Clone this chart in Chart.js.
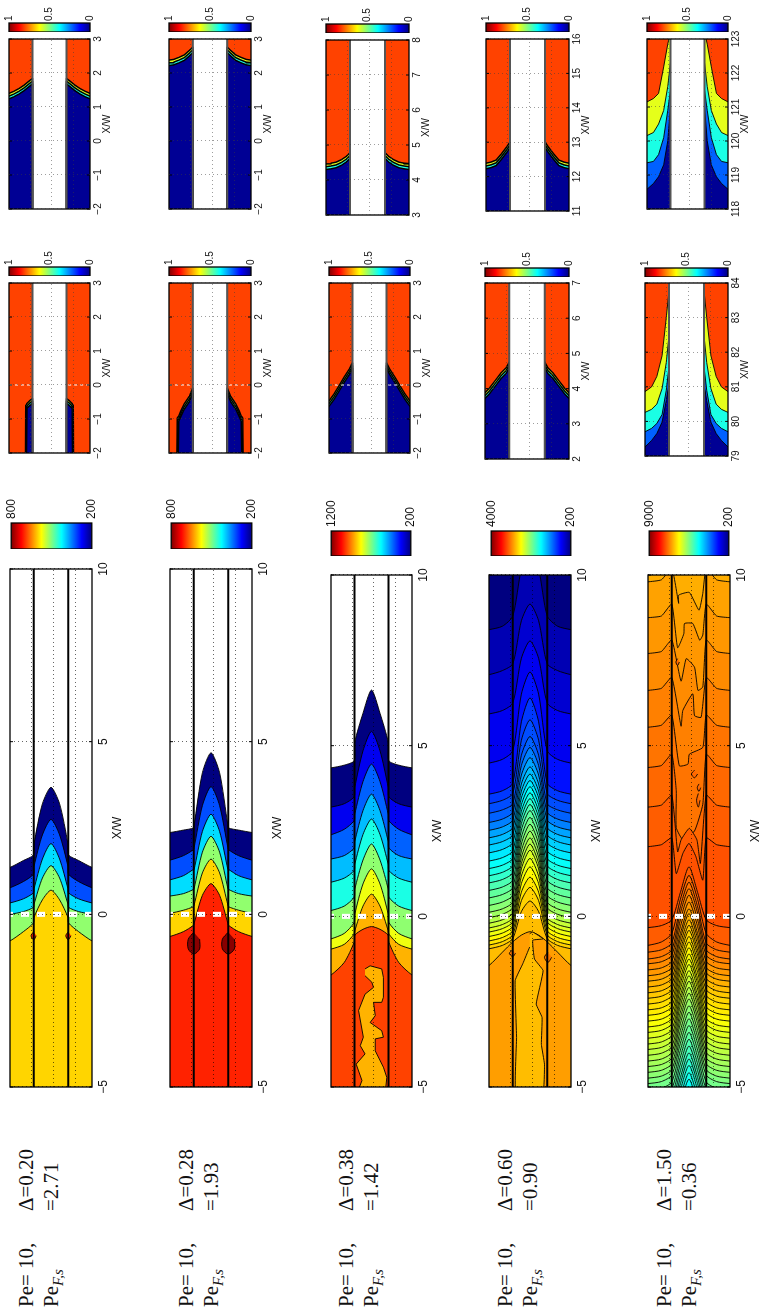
<!DOCTYPE html>
<html>
<head>
<meta charset="utf-8">
<script src="https://cdn.jsdelivr.net/npm/chart.js"></script>
<style>
  html, body { margin: 0; padding: 0; background: #fff; overflow: hidden; }
  /* the whole figure is a landscape page turned on its side */
  #page { position: absolute; left: 0; top: 1315px; width: 1315px; height: 762px;
          transform-origin: 0 0; transform: rotate(-90deg); }
  #page canvas { position: absolute; }
  .lbl { position: absolute; font-family: "Liberation Serif", serif; font-size: 21px; line-height: 24px; white-space: nowrap; color: #111; }
  .lbl i { font-size: 15px; position: relative; top: 5px; }
</style>
</head>
<body>
<div id="page"></div>
<script>
// ---- labels of the five cases
const deltaLabels = ['Δ=0.20', 'Δ=0.28', 'Δ=0.38', 'Δ=0.60', 'Δ=1.50'];
const peLabels = ['=2.71', '=1.93', '=1.42', '=0.90', '=0.36'];

// ---- axes
const mainTicks = [-5, 0, 5, 10];
const gridY = [0.57, -0.06, -0.7];
const rightTicks = [[-2,-1,0,1,2,3], [-2,-1,0,1,2,3], [3,4,5,6,7,8], [11,12,13,14,15,16], [118,119,120,121,122,123]];
const midTicks = [[-2,-1,0,1,2,3], [-2,-1,0,1,2,3], [-2,-1,0,1,2,3], [2,3,4,5,6,7], [79,80,81,82,83,84]];
const barMax = [800, 800, 1200, 4000, 9000];
const barMin = 200;
const smallBarTicks = [0, 0.5, 1];

// ---- main panels: contour rows are X/W at these |y| stations
const stationY = [0, 0.25, 0.5, 0.8, 1.19];
const stationWallY = [0, 0.25, 0.49, 0.51, 0.8, 1.19];

const frontsA = [[3.68,3.2,2.05,1.72,1.56,1.36],[2.75,2.3,1.4,1.16,0.95,0.77],[2.05,1.6,0.75,0.62,0.45,0.33],[1.41,1.05,0.3,0.2,0.08,0],[0.7,0.42,-0.08,-0.25,-0.5,-0.77]];
const levelsA = [200,320,405,510,600];
const frontsB = [[4.68,4.1,2.58,2.5,2.44,2.37],[3.7,3.15,1.93,1.87,1.7,1.57],[2.9,2.4,1.3,1.3,1.12,1.0],[2.26,1.8,0.75,0.72,0.6,0.53],[1.6,1.2,0.27,0.22,0.12,0.03],[0.89,0.55,-0.26,-0.32,-0.5,-0.64]];
const levelsB = [200,320,405,510,600,705];
const frontsC = [[6.63,5.95,5.1,4.56,4.43,4.35],[5.42,4.85,3.78,3.5,3.3,3.2],[4.46,3.95,3.0,2.8,2.55,2.39],[3.58,3.1,2.2,2.0,1.78,1.68],[2.85,2.4,1.53,1.34,1.12,1.0],[2.12,1.65,0.8,0.56,0.3,0.17],[1.39,0.95,0.07,-0.18,-0.5,-0.66],[0.65,0.3,-0.42,-0.52,-0.82,-0.96],[-0.3,-0.38,-0.55,-0.76,-1.35,-1.72]];
const levelsC = [200,310,420,510,600,715,810,900,1010];
const frontsD = [
  [10.7,10.17,8.8,8.5,8.4],[9.15,8.66,7.4,7.2,7.08],[8.07,7.56,6.25,6.03,5.93],[7.16,6.51,4.85,4.6,4.49],[6.4,5.7,3.9,3.68,3.58],
  [5.76,5.16,3.6,3.4,3.3],[5.27,4.72,3.3,3.12,3.02],[4.95,4.42,3.05,2.85,2.75],[4.65,4.14,2.82,2.62,2.52],[4.38,3.88,2.6,2.4,2.3],
  [4.17,3.67,2.39,2.19,2.09],[3.98,3.47,2.16,1.96,1.86],[3.8,3.27,1.92,1.72,1.62],[3.62,3.08,1.7,1.5,1.4],[3.45,2.9,1.49,1.29,1.19],
  [3.28,2.72,1.28,1.08,0.98],[3.1,2.53,1.06,0.86,0.76],[2.9,2.32,0.84,0.64,0.54],[2.7,2.12,0.62,0.42,0.32],[2.5,1.92,0.42,0.22,0.12],
  [2.3,1.73,0.26,0.06,-0.04],[2.12,1.55,0.1,-0.1,-0.2],[1.94,1.39,-0.04,-0.24,-0.34],[1.7,1.18,-0.16,-0.36,-0.46],[1.45,0.96,-0.29,-0.49,-0.59],
  [1.15,0.71,-0.42,-0.62,-0.72],[0.85,0.46,-0.54,-0.74,-0.84],[0.45,0.14,-0.65,-0.85,-0.95],[-0.45,-0.55,-0.75,-1.05,-1.44]];
const levelsD = [390,504,618,732,884,960,1036,1150,1283,1378,1454,1549,1644,1720,1815,1910,1986,2062,2138,2214,2290,2366,2442,2518,2594,2670,2746,2822,2936];
const frontsE = [
  [1.45,0.7,-0.1,-0.27,-0.33],[1.2,0.5,-0.5,-0.75,-0.85],[1.0,0.28,-0.78,-0.98,-1.05],[0.81,0.1,-0.98,-1.18,-1.25],[0.62,-0.1,-1.14,-1.33,-1.39],
  [0.42,-0.3,-1.32,-1.51,-1.57],[0.22,-0.5,-1.5,-1.68,-1.74],[0.08,-0.65,-1.65,-1.84,-1.9],[-0.1,-0.82,-1.82,-2.01,-2.07],[-0.26,-0.99,-1.99,-2.18,-2.24],
  [-0.41,-1.14,-2.15,-2.34,-2.4],[-0.59,-1.31,-2.32,-2.51,-2.57],[-0.75,-1.47,-2.49,-2.68,-2.74],[-0.92,-1.64,-2.65,-2.84,-2.9],[-1.1,-1.82,-2.82,-3.01,-3.07],
  [-1.25,-1.97,-2.99,-3.18,-3.24],[-1.41,-2.13,-3.15,-3.34,-3.4],[-1.59,-2.31,-3.32,-3.51,-3.57],[-1.74,-2.46,-3.49,-3.68,-3.74],[-1.9,-2.62,-3.65,-3.84,-3.9],
  [-2.08,-2.8,-3.82,-4.01,-4.07],[-2.25,-2.97,-3.99,-4.18,-4.24],[-2.42,-3.14,-4.15,-4.34,-4.4],[-2.62,-3.34,-4.32,-4.51,-4.57],[-2.81,-3.53,-4.49,-4.68,-4.74],
  [-3.0,-3.72,-4.65,-4.84,-4.9],[-3.2,-3.92,-4.85,-5.04,-5.1],[-3.4,-4.12,-5.05,-5.24,-5.3],[-3.6,-4.32,-5.25,-5.44,-5.5],[-3.8,-4.52,-5.45,-5.64,-5.7],
  [-4.0,-4.72,-5.65,-5.84,-5.9],[-4.18,-4.9,-5.85,-6.04,-6.1],[-4.37,-5.09,-6.05,-6.24,-6.3],[-4.58,-5.3,-6.25,-6.44,-6.5],[-4.77,-5.5,-6.35,-6.54,-6.6]];
const levelsE = [7108,7004,6900,6796,6692,6588,6484,6380,6276,6172,6068,5964,5860,5756,5652,5548,5444,5340,5236,5132,5028,4924,4820,4716,4612,4508,4404,4300,4196,4092,3988,3884,3780,3676,3572];

// Δ=1.50, warm side: [wall, |y|=.8, edge] and the wiggly line across the channel as [x, y]
const hotOuterE = [[10.2,9.86,9.8],[9.15,8.8,8.75],[8.1,7.76,7.7],[7.0,6.68,6.62],[5.9,5.6,5.54],[4.75,4.42,4.36],[3.55,3.26,3.2],[2.3,2.1,2.04]];
const hotLevelsE = [6500,6600,6700,6800,6900,7000,7100,7200];
const hotInnerE = [
  [[9.17,0.3],[9.41,0.3],[9.49,-0.01],[8.97,-0.29],[9.46,-0.4]],
  [[7.87,0.33],[8.28,0.15],[8.58,0.13],[8.58,-0.11],[8.09,-0.31],[8.24,-0.4]],
  [[6.89,0.23],[7.55,0.08],[7.3,-0.16],[6.62,-0.26],[6.72,-0.4]],
  [[5.57,0.23],[6.03,0.18],[6.52,-0.11],[5.88,-0.16],[5.83,-0.35]],
  [[4.41,0.28],[4.46,0.03],[4.75,-0.01],[4.95,-0.4]],
  [[3.68,0.37],[2.6,0.37],[2.25,0.18],[2.5,-0.16],[3.28,-0.4]],
  [[1.89,0.33],[2.24,0.23],[2.58,-0.01],[2.24,-0.23],[1.55,-0.33]],
  [[1.25,0.37],[1.84,0.18],[2.14,0],[1.75,-0.2],[1.06,-0.4]]];
const baseLevelD = 200;
const baseLevelE = 6400;

// closed islands and blobs, [x, y]
const blobsA = [[[-0.5,0.5],[-0.62,0.58],[-0.74,0.5],[-0.62,0.43]], [[-0.5,-0.5],[-0.62,-0.43],[-0.74,-0.5],[-0.62,-0.58]]];
const blobLevelA = 705;
const blobsB = [[[-0.52,0.5],[-0.72,0.66],[-1.0,0.66],[-1.15,0.5],[-1.0,0.33],[-0.72,0.33]], [[-0.52,-0.5],[-0.72,-0.33],[-1.0,-0.33],[-1.15,-0.5],[-1.0,-0.68],[-0.72,-0.68]]];
const blobLevelB = 795;
const islandC = [[-1.54,0.19],[-1.45,0.04],[-1.54,-0.3],[-1.79,-0.35],[-2.37,-0.35],[-2.52,-0.3],[-2.52,-0.06],[-2.91,-0.11],[-3.11,0.04],[-3.35,-0.3],[-3.54,-0.35],[-3.59,-0.11],[-3.94,-0.11],[-4.42,-0.35],[-4.72,-0.45],[-5.2,-0.4],[-5.2,0.43],[-4.81,0.28],[-4.33,0.45],[-4.03,0.19],[-3.79,0.33],[-3.54,0.24],[-2.76,0.38],[-2.28,0.19],[-2.08,-0.06],[-1.93,-0.01],[-1.74,0.19]];
const islandLevelC = 900;
const islandD = [[-0.51,0.01],[-0.46,-0.08],[-0.66,-0.38],[-0.7,-0.08],[-1.25,-0.13],[-1.59,-0.38],[-2.57,-0.18],[-2.96,-0.35],[-3.75,-0.33],[-4.33,-0.42],[-5.2,-0.37],[-5.2,0.41],[-3.55,0.39],[-1.88,0.43],[-1.39,0.21],[-0.9,0.01]];
const islandLevelD = 2822;
const blobsD = [[[-0.98,0.5],[-1.08,0.6],[-1.18,0.5],[-1.08,0.42]], [[-1.05,-0.52],[-1.2,-0.42],[-1.35,-0.52],[-1.2,-0.63]]];
const blobLevelD = 3080;
const spotsE = [[[4.28,-0.16],[4.17,-0.07],[4.06,-0.16],[4.17,-0.25]], [[3.88,-0.29],[3.77,-0.24],[3.66,-0.29],[3.77,-0.34]], [[7.55,0.33],[7.45,0.38],[7.35,0.33],[7.45,0.28]], [[3.6,-0.27],[3.4,-0.22],[3.2,-0.27],[3.4,-0.32]]];
const spotLevelE = 7000;

// ---- small panels: fronts on the outer bands, X/W at the |y| stations of the panel
const thinY = [0.5, 0.6, 0.75, 0.9, 1.05, 1.19];
const wideY = [0.5, 0.58, 0.7, 0.85, 1.0, 1.19];
const stripYmidA = [0.5, 0.58, 0.64, 0.66, 0.68, 0.7, 0.71, 1.19];
const stripYmidB = [0.5, 0.6, 0.75, 0.85, 0.91, 0.93, 0.95, 0.96, 1.19];

const rightA = [[1.84,1.76,1.64,1.54,1.46,1.4],[1.76,1.68,1.56,1.46,1.38,1.32],[1.68,1.6,1.48,1.38,1.3,1.24]];
const rightB = [[2.76,2.66,2.53,2.46,2.4,2.38],[2.68,2.58,2.45,2.38,2.32,2.3],[2.6,2.5,2.37,2.3,2.24,2.22]];
const rightC = [[4.78,4.68,4.58,4.51,4.48,4.46],[4.7,4.6,4.5,4.43,4.4,4.38],[4.62,4.52,4.42,4.35,4.32,4.3]];
const rightD = [[13.01,12.86,12.66,12.48,12.42,12.39],[12.93,12.78,12.58,12.4,12.34,12.31],[12.85,12.7,12.5,12.32,12.26,12.23]];
const rightE = [[123.2,122.85,122.18,121.4,121.25,121.15],[122.3,121.6,120.9,120.5,120.25,120.16],[121.5,120.9,120.1,119.6,119.4,119.36],[121,120,119.3,118.95,118.75,118.58]];
const midA = [[-0.4,-0.46,-0.52,-0.54,-0.58,-0.6,-2.6,-2.6],[-0.47,-0.53,-0.59,-0.62,-0.64,-2.6,-2.6,-2.6],[-0.54,-0.6,-0.66,-0.68,-2.6,-2.6,-2.6,-2.6]];
const midB = [[-0.09,-0.33,-0.56,-0.77,-0.92,-0.94,-0.97,-2.6,-2.6],[-0.17,-0.41,-0.64,-0.85,-1.0,-1.02,-2.6,-2.6,-2.6],[-0.25,-0.49,-0.72,-0.93,-1.08,-2.6,-2.6,-2.6,-2.6]];
const midC = [[0.65,0.46,0.22,-0.03,-0.27,-0.47],[0.57,0.38,0.14,-0.11,-0.35,-0.55],[0.49,0.3,0.06,-0.19,-0.43,-0.63]];
const midD = [[4.76,4.58,4.43,4.23,4.03,3.88],[4.68,4.5,4.35,4.15,3.95,3.8],[4.6,4.42,4.27,4.07,3.87,3.72]];
const midE = [[83.8,83.0,81.9,81.3,81.0,80.86],[82.5,81.7,80.95,80.5,80.35,80.26],[81.6,80.9,80.2,79.94,79.8,79.7],[81.1,80.6,79.98,79.65,79.45,79.26]];
const thinLevels = [0.6, 0.4, 0.02];
const wideLevels = [0.6, 0.4, 0.22, 0.02];
const hotLevel = 0.81;
const midDashed = [true, true, true, false, false];

// ---- layout of the panels on the finished (upright) picture: [left, top, right, bottom]
const mainBoxes = [[10,569,92,1087],[170,569,252,1087],[331,575,412,1087],[489,575,571,1087],[648,575,730,1087]];
const mainBars = [[10,523,93,549],[170,523,253,549],[330,531,412,556],[490,531,572,556],[648,531,730,556]];
const midBoxes = [[9,283,90,453],[169,283,251,453],[329,283,410,453],[485,283,569,459],[645,283,728,456]];
const midBars = [[9,267,90,276],[169,267,251,276],[329,267,410,276],[485,268,569,277],[645,268,728,277]];
const rightBoxes = [[9,39,90,209],[169,39,251,209],[326,40,409,215],[486,39,569,211],[647,39,728,209]];
const rightBars = [[9,23,90,32],[169,23,251,32],[326,24,409,33],[486,23,569,32],[647,23,728,32]];
const textBase = [32, 192, 352, 511, 670];

const page = document.getElementById('page');
const Y_EDGE = 1.19;

function clamp(v) { return Math.max(0, Math.min(1, v)); }
function jet(t) {
  const r = clamp(Math.min(4 * t - 1.5, -4 * t + 4.5));
  const g = clamp(Math.min(4 * t - 0.5, -4 * t + 3.5));
  const b = clamp(Math.min(4 * t + 0.5, -4 * t + 2.5));
  return `rgb(${Math.round(r * 255)},${Math.round(g * 255)},${Math.round(b * 255)})`;
}
function pts(list) { return list.map(p => ({ x: p[0], y: p[1] })); }

function area(list, color, tension, width) {
  return { data: pts(list), showLine: true, pointRadius: 0, fill: 'shape', backgroundColor: color,
           borderColor: '#000', borderWidth: width || 0.9, tension: tension, borderJoinStyle: 'round', capBezierPoints: false };
}
function stroke(list, color, width, dash, offset) {
  return { data: pts(list), showLine: true, pointRadius: 0, fill: false, borderColor: color, borderWidth: width,
           borderDash: dash || [], borderDashOffset: offset || 0 };
}

// black box and short inward ticks, the way the plots are framed
const framePlugin = {
  id: 'frame',
  afterDatasetsDraw(chart) {
    const a = chart.chartArea, c = chart.ctx;
    c.save();
    c.strokeStyle = '#000';
    c.lineWidth = 1.3;
    c.strokeRect(a.left, a.top, a.right - a.left, a.bottom - a.top);
    if (chart.scales.x.type === 'linear') {
      c.lineWidth = 1;
      chart.scales.x.ticks.forEach(t => {
        const px = chart.scales.x.getPixelForValue(t.value);
        c.beginPath();
        c.moveTo(px, a.top); c.lineTo(px, a.top + 3);
        c.moveTo(px, a.bottom); c.lineTo(px, a.bottom - 3);
        c.stroke();
      });
    }
    c.restore();
  }
};

function place(box, bottomH, padX) {
  const L = 1315 - box[3], R = 1315 - box[1], T = box[0], B = box[2];
  const cv = document.createElement('canvas');
  const padT = 3;
  cv.width = R - L + 2 * padX;
  cv.height = B - T + padT + bottomH;
  cv.style.left = (L - padX) + 'px';
  cv.style.top = (T - padT) + 'px';
  page.appendChild(cv);
  return { cv, padT };
}

function panel(box, datasets, xmin, xmax, ticks, fontSize, bottomH, tickPad, gridAlpha) {
  const { cv, padT } = place(box, bottomH, 14);
  datasets.forEach((d, i) => { d.order = datasets.length - i; });
  new Chart(cv, {
    type: 'scatter',
    data: { datasets },
    plugins: [framePlugin],
    options: {
      responsive: false, animation: false, events: [],
      layout: { padding: { left: 14, right: 14, top: padT, bottom: 0 } },
      plugins: { legend: { display: false }, tooltip: { enabled: false } },
      scales: {
        x: {
          type: 'linear', min: xmin, max: xmax, position: 'bottom',
          afterBuildTicks: s => { s.ticks = ticks.map(v => ({ value: v })); },
          afterFit: s => { s.height = bottomH; },
          ticks: { padding: tickPad, maxRotation: 0, color: '#111', font: { family: 'Liberation Sans', size: fontSize },
                   callback: v => String(v).replace('-', '\u2212') },
          grid: { z: 1, color: gridAlpha, drawTicks: false },
          border: { display: false, dash: [1, 3] },
          title: { display: true, text: 'X/W', color: '#111', padding: 0, font: { family: 'Liberation Sans', size: fontSize } }
        },
        y: {
          type: 'linear', min: -Y_EDGE, max: Y_EDGE,
          afterBuildTicks: s => { s.ticks = gridY.map(v => ({ value: v })); },
          afterFit: s => { s.width = 0; },
          ticks: { display: false },
          grid: { z: 1, color: gridAlpha, drawTicks: false },
          border: { display: false, dash: [1, 3] }
        }
      }
    }
  });
}

function colorbar(box, lo, hi, ticks, fontSize, tickPad, labelRoom) {
  const L = 1315 - box[3], R = 1315 - box[1], T = box[0], B = box[2];
  const cv = document.createElement('canvas');
  const pad = 10;
  cv.width = R - L + labelRoom;
  cv.height = B - T + 2 * pad;
  cv.style.left = L + 'px';
  cv.style.top = (T - pad) + 'px';
  page.appendChild(cv);
  new Chart(cv, {
    type: 'bar',
    data: { labels: [''], datasets: [{ data: [[lo, hi]], barPercentage: 1, categoryPercentage: 1, borderWidth: 0,
      backgroundColor(ctx) {
        const a = ctx.chart.chartArea;
        if (!a) return '#000';
        const g = ctx.chart.ctx.createLinearGradient(0, a.bottom, 0, a.top);
        [0, 0.125, 0.375, 0.625, 0.875, 1].forEach(s => g.addColorStop(s, jet(s)));
        return g;
      } }] },
    plugins: [framePlugin],
    options: {
      responsive: false, animation: false, events: [],
      layout: { padding: { left: 0, right: 0, top: pad, bottom: pad } },
      plugins: { legend: { display: false }, tooltip: { enabled: false } },
      scales: {
        x: { display: false },
        y: {
          position: 'right', min: lo, max: hi,
          afterBuildTicks: s => { s.ticks = ticks.map(v => ({ value: v })); },
          afterFit: s => { s.width = labelRoom; },
          ticks: { padding: tickPad, color: '#111', font: { family: 'Liberation Sans', size: fontSize }, callback: v => String(v) },
          grid: { display: false, drawTicks: false }, border: { display: false }
        }
      }
    }
  });
}

// region left of a contour, across the whole height of the plot
function frontPolygon(row, off) {
  const st = row.length === 6 ? stationWallY : stationY;
  const n = row.length - 1;
  const list = [[off, 1.3], [row[n], 1.3]];
  for (let i = n; i >= 1; i--) list.push([row[i], st[i]]);
  list.push([row[0], 0]);
  for (let i = 1; i <= n; i++) list.push([row[i], -st[i]]);
  list.push([row[n], -1.3], [off, -1.3]);
  return list;
}
function hotPolygon(outer, inner, off) {
  return [[off, 1.3], [outer[2], 1.3], [outer[2], 1.19], [outer[1], 0.8], [outer[0], 0.5]]
    .concat(inner)
    .concat([[outer[0], -0.5], [outer[1], -0.8], [outer[2], -1.19], [outer[2], -1.3], [off, -1.3]]);
}

function mainDatasets(i) {
  const cmax = barMax[i];
  const col = v => jet((v - barMin) / (cmax - barMin));
  const off = -9;
  const rect = [[off, -1.3], [11, -1.3], [11, 1.3], [off, 1.3]];
  const ds = [];
  if (i === 3) ds.push(area(rect, col(baseLevelD), 0));
  if (i === 4) {
    ds.push(area(rect, col(baseLevelE), 0));
    hotOuterE.forEach((o, k) => ds.push(area(hotPolygon(o, hotInnerE[k], off), col(hotLevelsE[k]), 0.15)));
  }
  const fronts = [frontsA, frontsB, frontsC, frontsD, frontsE][i];
  const levels = [levelsA, levelsB, levelsC, levelsD, levelsE][i];
  fronts.forEach((r, k) => ds.push(area(frontPolygon(r, off), col(levels[k]), 0.25)));
  if (i === 0) blobsA.forEach(b => ds.push(area(b, col(blobLevelA), 0.3)));
  if (i === 1) blobsB.forEach(b => ds.push(area(b, col(blobLevelB), 0.3)));
  if (i === 2) ds.push(area(islandC, col(islandLevelC), 0));
  if (i === 3) {
    ds.push(area(islandD, col(islandLevelD), 0.1));
    blobsD.forEach(b => ds.push(area(b, col(blobLevelD), 0.3)));
  }
  if (i === 4) spotsE.forEach(b => ds.push(area(b, col(spotLevelE), 0.3)));
  ds.push(stroke([[-5, 0.5], [10, 0.5]], '#000', 2.2));
  ds.push(stroke([[-5, -0.5], [10, -0.5]], '#000', 2.2));
  ds.push(stroke([[0, Y_EDGE], [0, -Y_EDGE]], '#fff', 5, [8, 8], 5));
  return ds;
}

function smallDatasets(ys, rows, levels, xmin, xmax, dashed) {
  const off = xmin - 2;
  const lineW = rows.length === 3 ? 1.5 : 0.9;
  const ds = [];
  [1, -1].forEach(s => {
    ds.push(area([[off, s * 0.5], [xmax + 1, s * 0.5], [xmax + 1, s * 1.3], [off, s * 1.3]], jet(hotLevel), 0));
    rows.forEach((r, k) => {
      const list = [[off, s * 0.5]];
      r.forEach((x, j) => list.push([x, s * ys[j]]));
      list.push([r[r.length - 1], s * 1.3], [off, s * 1.3]);
      ds.push(area(list, jet(levels[k]), 0, lineW));
    });
  });
  ds.push(stroke([[xmin, 0.5], [xmax, 0.5]], '#555', 2));
  ds.push(stroke([[xmin, -0.5], [xmax, -0.5]], '#555', 2));
  if (dashed) {
    ds.push(stroke([[0, Y_EDGE], [0, 0.55]], '#fff', 1, [3, 3]));
    ds.push(stroke([[0, -0.55], [0, -Y_EDGE]], '#fff', 1, [3, 3]));
  }
  return ds;
}

const rightRows = [rightA, rightB, rightC, rightD, rightE];
const midRows = [midA, midB, midC, midD, midE];
const midYs = [stripYmidA, stripYmidB, thinY, thinY, wideY];
const rightYs = [thinY, thinY, thinY, thinY, wideY];

for (let i = 0; i < 5; i++) {
  // big panel and its colour bar
  panel(mainBoxes[i], mainDatasets(i), -5, 10, mainTicks, 12, 33, 4, 'rgba(0,0,0,0.6)');
  colorbar(mainBars[i], barMin, barMax[i], [barMin, barMax[i]], 12, 4, 34);
  // earlier stage
  const mt = midTicks[i];
  panel(midBoxes[i], smallDatasets(midYs[i], midRows[i], i === 4 ? wideLevels : thinLevels, mt[0], mt[5], midDashed[i]), mt[0], mt[5], mt, 10, 23, 2, 'rgba(60,60,60,0.5)');
  colorbar(midBars[i], 0, 1, smallBarTicks, 10, 2, 22);
  // later stage
  const rt = rightTicks[i];
  panel(rightBoxes[i], smallDatasets(rightYs[i], rightRows[i], i === 4 ? wideLevels : thinLevels, rt[0], rt[5], false), rt[0], rt[5], rt, 10, 23, 2, 'rgba(60,60,60,0.5)');
  colorbar(rightBars[i], 0, 1, smallBarTicks, 10, 2, 22);

  // case labels on the left of the landscape page
  const lines = [
    [8, textBase[i], 'Pe= 10,'], [104, textBase[i], deltaLabels[i]],
    [8, textBase[i] + 24.5, 'Pe<i>F,s</i>'], [104, textBase[i] + 24.5, peLabels[i]]
  ];
  lines.forEach(l => {
    const d = document.createElement('div');
    d.className = 'lbl';
    d.style.left = l[0] + 'px';
    d.style.top = (l[1] - 18) + 'px';
    d.innerHTML = l[2];
    page.appendChild(d);
  });
}
</script>
</body>
</html>
